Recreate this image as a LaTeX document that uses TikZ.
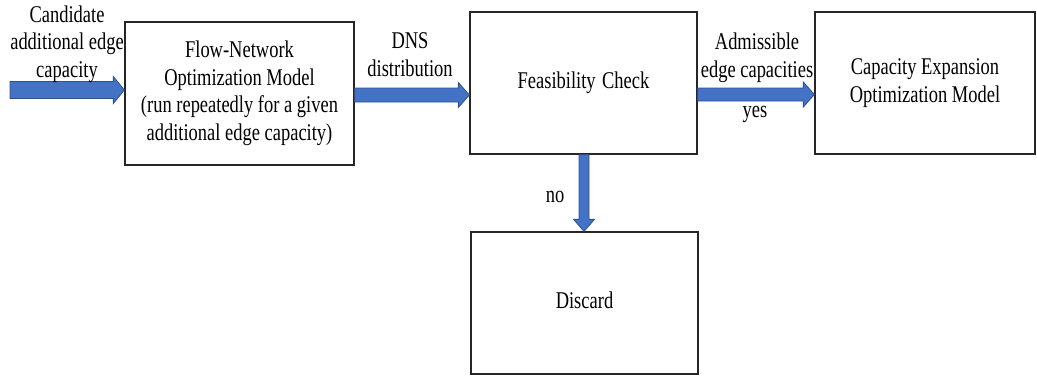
\documentclass[tikz,border=0pt]{standalone}
\usepackage{fontspec}
\setmainfont{Liberation Serif}
\usetikzlibrary{calc}
\definecolor{flowblue}{HTML}{4472C4}
\definecolor{flowedge}{HTML}{2F528F}

% condensed, centred multi-line text
\newcommand\narrow[1]{\scalebox{0.77}[1]{\begin{tabular}{@{}c@{}}#1\end{tabular}}}

% horizontal block arrow: start, tip, half shaft, half head
\newcommand\hflow[4]{%
  \filldraw[flow] ($(#1)+(0,#3)$) -- ($(#2)+(-11,#3)$) -- ($(#2)+(-11,#4)$) -- (#2)
    -- ($(#2)+(-11,-#4)$) -- ($(#2)+(-11,-#3)$) -- ($(#1)+(0,-#3)$) -- cycle;}
% vertical block arrow (pointing down): start, tip, half shaft, half head
\newcommand\vflow[4]{%
  \filldraw[flow] ($(#1)+(#3,0)$) -- ($(#2)+(#3,-12)$) -- ($(#2)+(#4,-12)$) -- (#2)
    -- ($(#2)+(-#4,-12)$) -- ($(#2)+(-#3,-12)$) -- ($(#1)+(-#3,0)$) -- cycle;}

\begin{document}
\begin{tikzpicture}[x=1pt,y=-1pt,
  every node/.style={font=\fontsize{24}{27.5}\selectfont, inner sep=0pt},
  box/.style={draw=black!85, line width=1.3pt, minimum width=#1, minimum height=142pt},
  flow/.style={fill=flowblue, draw=flowedge, line width=0.8pt, line join=miter}]
\useasboundingbox (0,0) rectangle (1037,376);

% process boxes
\node[box=229pt, minimum height=143pt] (model) at (239.5,93.5)
  {\narrow{Flow-Network\\Optimization Model\\(run repeatedly for a given\\additional edge capacity)}};
\node[box=227pt] (check) at (583.5,83) {\narrow{Feasibility\hspace{0.35em}Check}};
\node[box=220pt] (expand) at (925,83) {\narrow{Capacity Expansion\\Optimization Model}};
\node[box=227pt] (discard) at (584.5,303) {\raisebox{-3pt}{\narrow{Discard}}};

% arrow end points
\coordinate (in) at (10,90);
\coordinate (modelin) at (model.west |- in);
\coordinate (modelout) at (model.east |- 0,95);
\coordinate (checkin) at (check.west |- modelout);
\coordinate (checkout) at (check.east |- 0,94.5);
\coordinate (expandin) at (expand.west |- checkout);
\coordinate (checkdown) at (check.south -| 584,0);
\coordinate (discardin) at (discard.north -| checkdown);

% block arrows
\hflow{in}{modelin}{8.5}{13.5}
\hflow{modelout}{checkin}{7}{12.5}
\hflow{checkout}{expandin}{6.5}{12.5}
\vflow{checkdown}{discardin}{5}{10.5}

% arrow labels
\node (cand) at (67,44) {\narrow{Candidate\\additional edge\\capacity}};
\node (dns) at (410,57) {\narrow{DNS\\distribution}};
\node (adm) at (757,58) {\narrow{Admissible\\edge capacities}};
\node (yes) at (755,112) {\narrow{yes}};
\node (no) at (555,197) {\narrow{no}};
\end{tikzpicture}
\end{document}
